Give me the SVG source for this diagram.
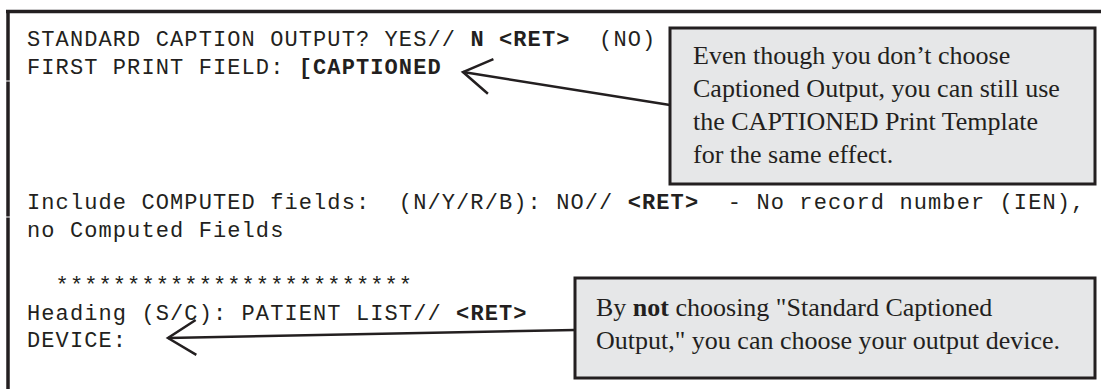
<svg xmlns="http://www.w3.org/2000/svg" width="1101" height="389" viewBox="0 0 1101 389">
  <style>
    .term { font-family: "Liberation Mono", "Courier New", monospace; font-size: 22px; letter-spacing: 1.1px; fill: #231f20; white-space: pre; }
    .b { font-weight: bold; }
    .note { font-family: "Liberation Serif", "Times New Roman", serif; font-size: 26px; fill: #231f20; }
    .box { fill: #e6e7e8; stroke: #231f20; stroke-width: 3; }
    .frame { stroke: #231f20; stroke-width: 3.5; fill: none; }
    .conn { stroke: #231f20; stroke-width: 2.5; fill: none; }
  </style>
  <defs>
    <marker id="openHead" markerUnits="userSpaceOnUse" markerWidth="40" markerHeight="44" viewBox="-34 -22 40 44" refX="0" refY="0" orient="auto">
      <path d="M -28 -17.5 L 0 0 L -28 17.5" fill="none" stroke="#231f20" stroke-width="2.5" stroke-linejoin="miter"/>
    </marker>
  </defs>

  <!-- screen frame: top rule and left rule (left rule has two hairline breaks) -->
  <g id="frame">
    <line class="frame" x1="6" y1="11.5" x2="1101" y2="11.5"/>
    <line class="frame" x1="8" y1="10" x2="8" y2="80.5"/>
    <line class="frame" x1="8" y1="81.5" x2="8" y2="216.5"/>
    <line class="frame" x1="8" y1="217.5" x2="8" y2="389"/>
  </g>

  <!-- terminal dialogue -->
  <g id="terminal">
    <text class="term" x="27" y="46">STANDARD CAPTION OUTPUT? YES// <tspan class="b">N</tspan> <tspan class="b">&lt;RET&gt;</tspan>  (NO)</text>
    <text class="term" x="27" y="74">FIRST PRINT FIELD: <tspan class="b">[CAPTIONED</tspan></text>
    <text class="term" x="27" y="209">Include COMPUTED fields:  (N/Y/R/B): NO// <tspan class="b">&lt;RET&gt;</tspan>  - No record number (IEN),</text>
    <text class="term" x="27" y="237">no Computed Fields</text>
    <text class="term" x="27" y="292">  *************************</text>
    <text class="term" x="27" y="320">Heading (S/C): PATIENT LIST// <tspan class="b">&lt;RET&gt;</tspan></text>
    <text class="term" x="27" y="347">DEVICE:</text>
  </g>

  <!-- callout: captioned template -->
  <g id="note-captioned">
    <rect class="box" x="670" y="28" width="425" height="156"/>
    <text class="note" x="693" y="64">Even though you don’t choose</text>
    <text class="note" x="693" y="97">Captioned Output, you can still use</text>
    <text class="note" x="693" y="130">the CAPTIONED Print Template</text>
    <text class="note" x="693" y="163">for the same effect.</text>
  </g>

  <!-- callout: output device -->
  <g id="note-device">
    <rect class="box" x="575" y="278" width="520" height="100"/>
    <text class="note" x="596" y="316">By <tspan font-weight="bold">not</tspan> choosing "Standard Captioned</text>
    <text class="note" x="596" y="349">Output," you can choose your output device.</text>
  </g>

  <!-- pointers from callouts to the prompts -->
  <g id="connectors">
    <path class="conn" d="M 670 105 L 463 72" marker-end="url(#openHead)"/>
    <path class="conn" d="M 575 330 L 168 338" marker-end="url(#openHead)"/>
  </g>
</svg>
